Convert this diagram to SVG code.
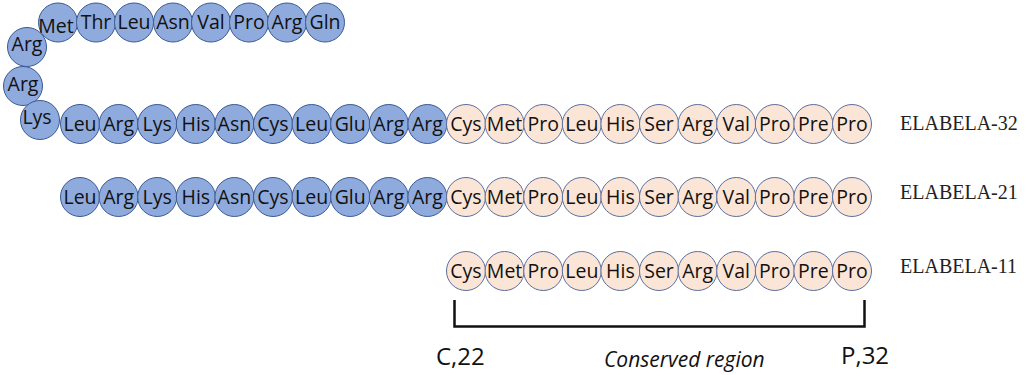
<svg xmlns="http://www.w3.org/2000/svg" width="1026" height="375" viewBox="0 0 1026 375">
<style>
.b circle{fill:#8FAADC;stroke:#3A5A94;stroke-width:1}
.p circle{fill:#FBE5D6;stroke:#5B6E9E;stroke-width:1}
.aa{font-family:"Open Sans","Noto Sans",sans-serif;font-size:19.5px;fill:#111;text-anchor:middle}
.lab{font-family:"Liberation Serif","Times New Roman",serif;font-size:20px;fill:#222}
.num{font-family:"Open Sans","Noto Sans",sans-serif;font-size:24px;fill:#111}
.cr{font-family:"Open Sans","Noto Sans",sans-serif;font-size:21px;font-style:italic;fill:#111}
</style>
<rect width="1026" height="375" fill="#fff"/>
<!-- ELABELA-32 N-terminal loop -->
<g id="e32-top" class="b">
<g id="e32-1"><circle cx="58" cy="22.5" r="19.5"/><text class="aa" x="56" y="33">Met</text></g>
<g id="e32-2"><circle cx="96" cy="22.5" r="19.5"/><text class="aa" x="96" y="29">Thr</text></g>
<g id="e32-3"><circle cx="134" cy="22.5" r="19.5"/><text class="aa" x="134" y="29">Leu</text></g>
<g id="e32-4"><circle cx="173" cy="22.5" r="19.5"/><text class="aa" x="173" y="29">Asn</text></g>
<g id="e32-5"><circle cx="211" cy="22.5" r="19.5"/><text class="aa" x="211" y="29">Val</text></g>
<g id="e32-6"><circle cx="249" cy="22.5" r="19.5"/><text class="aa" x="249" y="29">Pro</text></g>
<g id="e32-7"><circle cx="287" cy="22.5" r="19.5"/><text class="aa" x="287" y="29">Arg</text></g>
<g id="e32-8"><circle cx="325" cy="22.5" r="19.5"/><text class="aa" x="325" y="29">Gln</text></g>
<g id="e32-9"><circle cx="27" cy="47" r="19.5"/><text class="aa" x="27" y="51">Arg</text></g>
<g id="e32-10"><circle cx="23" cy="86" r="19.5"/><text class="aa" x="23" y="91">Arg</text></g>
<g id="e32-11"><circle cx="40" cy="120" r="19.5"/><text class="aa" x="37" y="124">Lys</text></g>
</g>
<!-- ELABELA-32 main row -->
<g id="e32-row">
<g class="b">
<g id="e32-12"><circle cx="80" cy="124" r="19.5"/><text class="aa" x="80" y="131">Leu</text></g>
<g id="e32-13"><circle cx="118.6" cy="124" r="19.5"/><text class="aa" x="118.6" y="131">Arg</text></g>
<g id="e32-14"><circle cx="157.2" cy="124" r="19.5"/><text class="aa" x="157.2" y="131">Lys</text></g>
<g id="e32-15"><circle cx="195.8" cy="124" r="19.5"/><text class="aa" x="195.8" y="131">His</text></g>
<g id="e32-16"><circle cx="234.4" cy="124" r="19.5"/><text class="aa" x="234.4" y="131">Asn</text></g>
<g id="e32-17"><circle cx="273" cy="124" r="19.5"/><text class="aa" x="273" y="131">Cys</text></g>
<g id="e32-18"><circle cx="311.6" cy="124" r="19.5"/><text class="aa" x="311.6" y="131">Leu</text></g>
<g id="e32-19"><circle cx="350.2" cy="124" r="19.5"/><text class="aa" x="350.2" y="131">Glu</text></g>
<g id="e32-20"><circle cx="388.8" cy="124" r="19.5"/><text class="aa" x="388.8" y="131">Arg</text></g>
<g id="e32-21"><circle cx="427.4" cy="124" r="19.5"/><text class="aa" x="427.4" y="131">Arg</text></g>
</g>
<g class="p">
<g id="e32-22"><circle cx="466" cy="124" r="19.5"/><text class="aa" x="466" y="131">Cys</text></g>
<g id="e32-23"><circle cx="504.6" cy="124" r="19.5"/><text class="aa" x="504.6" y="131">Met</text></g>
<g id="e32-24"><circle cx="543.2" cy="124" r="19.5"/><text class="aa" x="543.2" y="131">Pro</text></g>
<g id="e32-25"><circle cx="581.8" cy="124" r="19.5"/><text class="aa" x="581.8" y="131">Leu</text></g>
<g id="e32-26"><circle cx="620.4" cy="124" r="19.5"/><text class="aa" x="620.4" y="131">His</text></g>
<g id="e32-27"><circle cx="659" cy="124" r="19.5"/><text class="aa" x="659" y="131">Ser</text></g>
<g id="e32-28"><circle cx="697.6" cy="124" r="19.5"/><text class="aa" x="697.6" y="131">Arg</text></g>
<g id="e32-29"><circle cx="736.2" cy="124" r="19.5"/><text class="aa" x="736.2" y="131">Val</text></g>
<g id="e32-30"><circle cx="774.8" cy="124" r="19.5"/><text class="aa" x="774.8" y="131">Pro</text></g>
<g id="e32-31"><circle cx="813.4" cy="124" r="19.5"/><text class="aa" x="813.4" y="131">Pre</text></g>
<g id="e32-32"><circle cx="852" cy="124" r="19.5"/><text class="aa" x="852" y="131">Pro</text></g>
</g>
</g>
<!-- ELABELA-21 -->
<g id="e21-row">
<g class="b">
<g id="e21-1"><circle cx="80" cy="197" r="19.5"/><text class="aa" x="80" y="204">Leu</text></g>
<g id="e21-2"><circle cx="118.6" cy="197" r="19.5"/><text class="aa" x="118.6" y="204">Arg</text></g>
<g id="e21-3"><circle cx="157.2" cy="197" r="19.5"/><text class="aa" x="157.2" y="204">Lys</text></g>
<g id="e21-4"><circle cx="195.8" cy="197" r="19.5"/><text class="aa" x="195.8" y="204">His</text></g>
<g id="e21-5"><circle cx="234.4" cy="197" r="19.5"/><text class="aa" x="234.4" y="204">Asn</text></g>
<g id="e21-6"><circle cx="273" cy="197" r="19.5"/><text class="aa" x="273" y="204">Cys</text></g>
<g id="e21-7"><circle cx="311.6" cy="197" r="19.5"/><text class="aa" x="311.6" y="204">Leu</text></g>
<g id="e21-8"><circle cx="350.2" cy="197" r="19.5"/><text class="aa" x="350.2" y="204">Glu</text></g>
<g id="e21-9"><circle cx="388.8" cy="197" r="19.5"/><text class="aa" x="388.8" y="204">Arg</text></g>
<g id="e21-10"><circle cx="427.4" cy="197" r="19.5"/><text class="aa" x="427.4" y="204">Arg</text></g>
</g>
<g class="p">
<g id="e21-11"><circle cx="466" cy="197" r="19.5"/><text class="aa" x="466" y="204">Cys</text></g>
<g id="e21-12"><circle cx="504.6" cy="197" r="19.5"/><text class="aa" x="504.6" y="204">Met</text></g>
<g id="e21-13"><circle cx="543.2" cy="197" r="19.5"/><text class="aa" x="543.2" y="204">Pro</text></g>
<g id="e21-14"><circle cx="581.8" cy="197" r="19.5"/><text class="aa" x="581.8" y="204">Leu</text></g>
<g id="e21-15"><circle cx="620.4" cy="197" r="19.5"/><text class="aa" x="620.4" y="204">His</text></g>
<g id="e21-16"><circle cx="659" cy="197" r="19.5"/><text class="aa" x="659" y="204">Ser</text></g>
<g id="e21-17"><circle cx="697.6" cy="197" r="19.5"/><text class="aa" x="697.6" y="204">Arg</text></g>
<g id="e21-18"><circle cx="736.2" cy="197" r="19.5"/><text class="aa" x="736.2" y="204">Val</text></g>
<g id="e21-19"><circle cx="774.8" cy="197" r="19.5"/><text class="aa" x="774.8" y="204">Pro</text></g>
<g id="e21-20"><circle cx="813.4" cy="197" r="19.5"/><text class="aa" x="813.4" y="204">Pre</text></g>
<g id="e21-21"><circle cx="852" cy="197" r="19.5"/><text class="aa" x="852" y="204">Pro</text></g>
</g>
</g>
<!-- ELABELA-11 -->
<g id="e11-row" class="p">
<g id="e11-1"><circle cx="466" cy="271" r="19.5"/><text class="aa" x="466" y="278">Cys</text></g>
<g id="e11-2"><circle cx="504.6" cy="271" r="19.5"/><text class="aa" x="504.6" y="278">Met</text></g>
<g id="e11-3"><circle cx="543.2" cy="271" r="19.5"/><text class="aa" x="543.2" y="278">Pro</text></g>
<g id="e11-4"><circle cx="581.8" cy="271" r="19.5"/><text class="aa" x="581.8" y="278">Leu</text></g>
<g id="e11-5"><circle cx="620.4" cy="271" r="19.5"/><text class="aa" x="620.4" y="278">His</text></g>
<g id="e11-6"><circle cx="659" cy="271" r="19.5"/><text class="aa" x="659" y="278">Ser</text></g>
<g id="e11-7"><circle cx="697.6" cy="271" r="19.5"/><text class="aa" x="697.6" y="278">Arg</text></g>
<g id="e11-8"><circle cx="736.2" cy="271" r="19.5"/><text class="aa" x="736.2" y="278">Val</text></g>
<g id="e11-9"><circle cx="774.8" cy="271" r="19.5"/><text class="aa" x="774.8" y="278">Pro</text></g>
<g id="e11-10"><circle cx="813.4" cy="271" r="19.5"/><text class="aa" x="813.4" y="278">Pre</text></g>
<g id="e11-11"><circle cx="852" cy="271" r="19.5"/><text class="aa" x="852" y="278">Pro</text></g>
</g>
<!-- peptide names -->
<g id="labels">
<text class="lab" x="900" y="130">ELABELA-32</text>
<text class="lab" x="900" y="199">ELABELA-21</text>
<text class="lab" x="900" y="273">ELABELA-11</text>
</g>
<!-- conserved region bracket -->
<g id="connectors">
<path d="M454.5,300 V326.5 H864.5 V300" fill="none" stroke="#111" stroke-width="2.5"/>
</g>
<g id="bracket-labels">
<text class="num" x="436" y="365">C,22</text>
<text class="num" x="841" y="364">P,32</text>
<text class="cr" x="604" y="367">Conserved region</text>
</g>
</svg>
